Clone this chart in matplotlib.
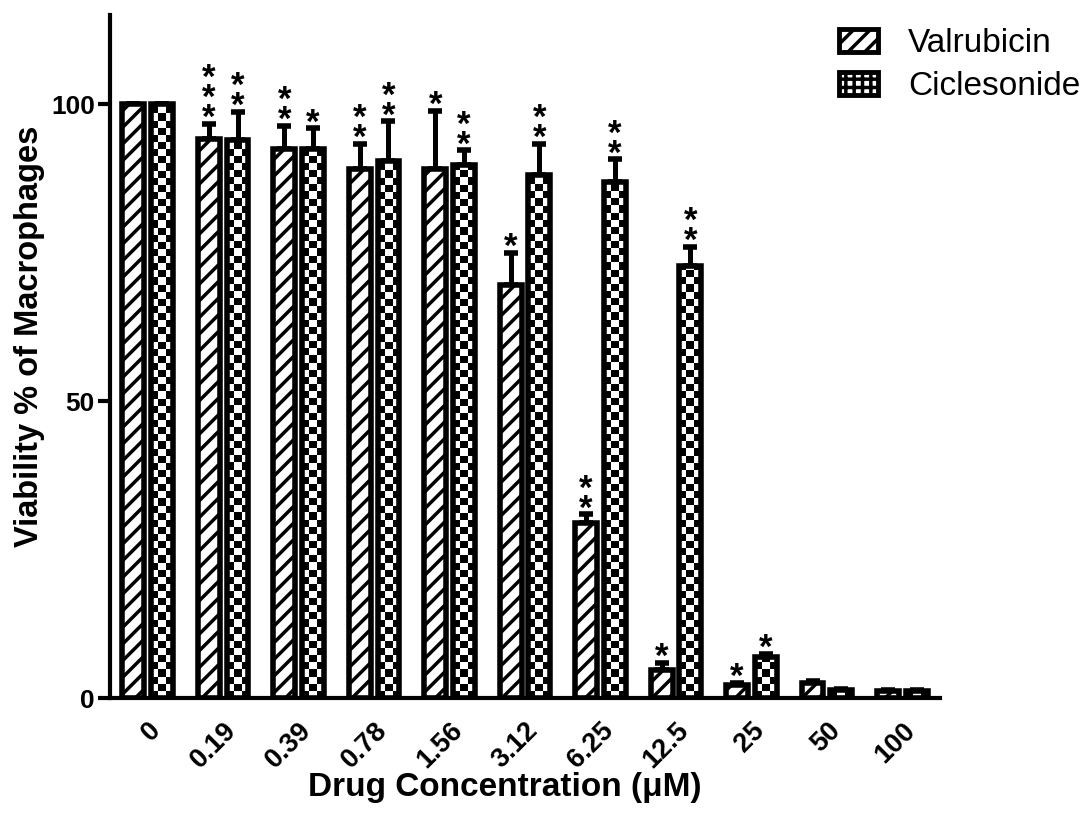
import numpy as np
import matplotlib.pyplot as plt
from matplotlib.patches import Patch

plt.rcParams['font.family'] = ['Liberation Sans', 'DejaVu Sans']
plt.rcParams['hatch.linewidth'] = 2.5

concentrations = ['0', '0.19', '0.39', '0.78', '1.56', '3.12', '6.25', '12.5', '25', '50', '100']
valrubicin = [100, 94.1, 92.5, 89.0, 89.0, 69.6, 29.4, 4.8, 2.2, 2.6, 1.1]
valrubicin_err = [0, 2.6, 3.8, 4.3, 9.8, 5.3, 1.5, 1.1, 0.3, 0.3, 0.2]
ciclesonide = [100, 94.0, 92.5, 90.4, 89.7, 88.1, 86.9, 72.7, 6.9, 1.4, 1.1]
ciclesonide_err = [0, 4.7, 3.4, 6.7, 2.5, 5.2, 3.8, 3.3, 0.5, 0.2, 0.2]
valrubicin_stars = [0, 3, 2, 2, 1, 1, 2, 1, 1, 0, 0]
ciclesonide_stars = [0, 2, 1, 2, 2, 2, 2, 2, 1, 0, 0]

fig = plt.figure(figsize=(10.83, 8.21), dpi=100)
ax = fig.add_axes([0.1016, 0.1498, 0.7664, 0.832])

x = np.arange(len(concentrations))
w = 0.29
off = 0.19

bars_v = ax.bar(x - off, valrubicin, w, facecolor='white', edgecolor='black',
                linewidth=4, hatch='//', zorder=2)
bars_c = ax.bar(x + off, ciclesonide, w, facecolor='white', edgecolor='black',
                linewidth=4, zorder=2)

# checkerboard fill for the Ciclesonide bars
cell_y = 1.2
for b in bars_c:
    x0, y0 = b.get_x(), b.get_y()
    bw, bh = b.get_width(), b.get_height()
    ny = max(int(np.ceil(bh / cell_y)), 1)
    checker = (np.add.outer(np.arange(ny), np.arange(3)) % 2).astype(float)
    im = ax.imshow(checker[::-1], cmap='gray', vmin=0, vmax=1, interpolation='nearest',
                   extent=[x0, x0 + bw, y0, y0 + ny * cell_y], aspect='auto', zorder=2.5)
    im.set_clip_path(b)
    b.set_facecolor('none')
    b.set_zorder(3)

ax.errorbar(x - off, valrubicin, yerr=[np.zeros(len(x)), valrubicin_err], fmt='none',
            ecolor='black', elinewidth=3.6, capsize=5, capthick=4, zorder=1)
ax.errorbar(x + off, ciclesonide, yerr=[np.zeros(len(x)), ciclesonide_err], fmt='none',
            ecolor='black', elinewidth=3.6, capsize=5, capthick=4, zorder=1)

# significance stars stacked above error bars
for xs, vals, errs, stars in [(x - off, valrubicin, valrubicin_err, valrubicin_stars),
                              (x + off, ciclesonide, ciclesonide_err, ciclesonide_stars)]:
    for xi, v, e, n in zip(xs, vals, errs, stars):
        if n:
            ax.annotate('\n'.join(['*'] * n), (xi, v + e), xytext=(0, -8),
                        textcoords='offset points', ha='center', va='bottom',
                        fontsize=25, fontweight='bold', linespacing=0.5)

ax.set_xlim(-0.5, 10.5)
ax.set_ylim(0, 115)
ax.set_yticks([0, 50, 100])
ax.set_xticks(x)
ax.set_xticklabels(concentrations, rotation=45, ha='right', rotation_mode='anchor',
                   fontweight='bold', fontsize=19.5)
for lab in ax.get_yticklabels():
    lab.set_fontweight('bold')
    lab.set_fontsize(19)
ax.tick_params(axis='x', length=0, pad=14)
ax.tick_params(axis='y', length=9, width=3, pad=2)
ax.spines['top'].set_visible(False)
ax.spines['right'].set_visible(False)
ax.spines['left'].set_linewidth(3)
ax.spines['bottom'].set_linewidth(3)

ax.set_ylabel('Viability % of Macrophages', fontsize=23.5, fontweight='bold')
ax.yaxis.set_label_coords(-0.078, 0.53)
ax.set_xlabel('Drug Concentration (\u03bcM)', fontsize=24, fontweight='bold')
ax.xaxis.set_label_coords(0.476, -0.109)

handles = [Patch(facecolor='white', edgecolor='black', linewidth=3.5, hatch='//', label='Valrubicin'),
           Patch(facecolor='white', edgecolor='black', linewidth=3.5, hatch='++', label='Ciclesonide')]
fig.legend(handles=handles, loc='upper right', bbox_to_anchor=(1.025, 1.002), frameon=False,
           fontsize=24, handlelength=1.15, handleheight=0.67, handletextpad=0.9, labelspacing=0.35)

fig.savefig('out.png', dpi=100)
